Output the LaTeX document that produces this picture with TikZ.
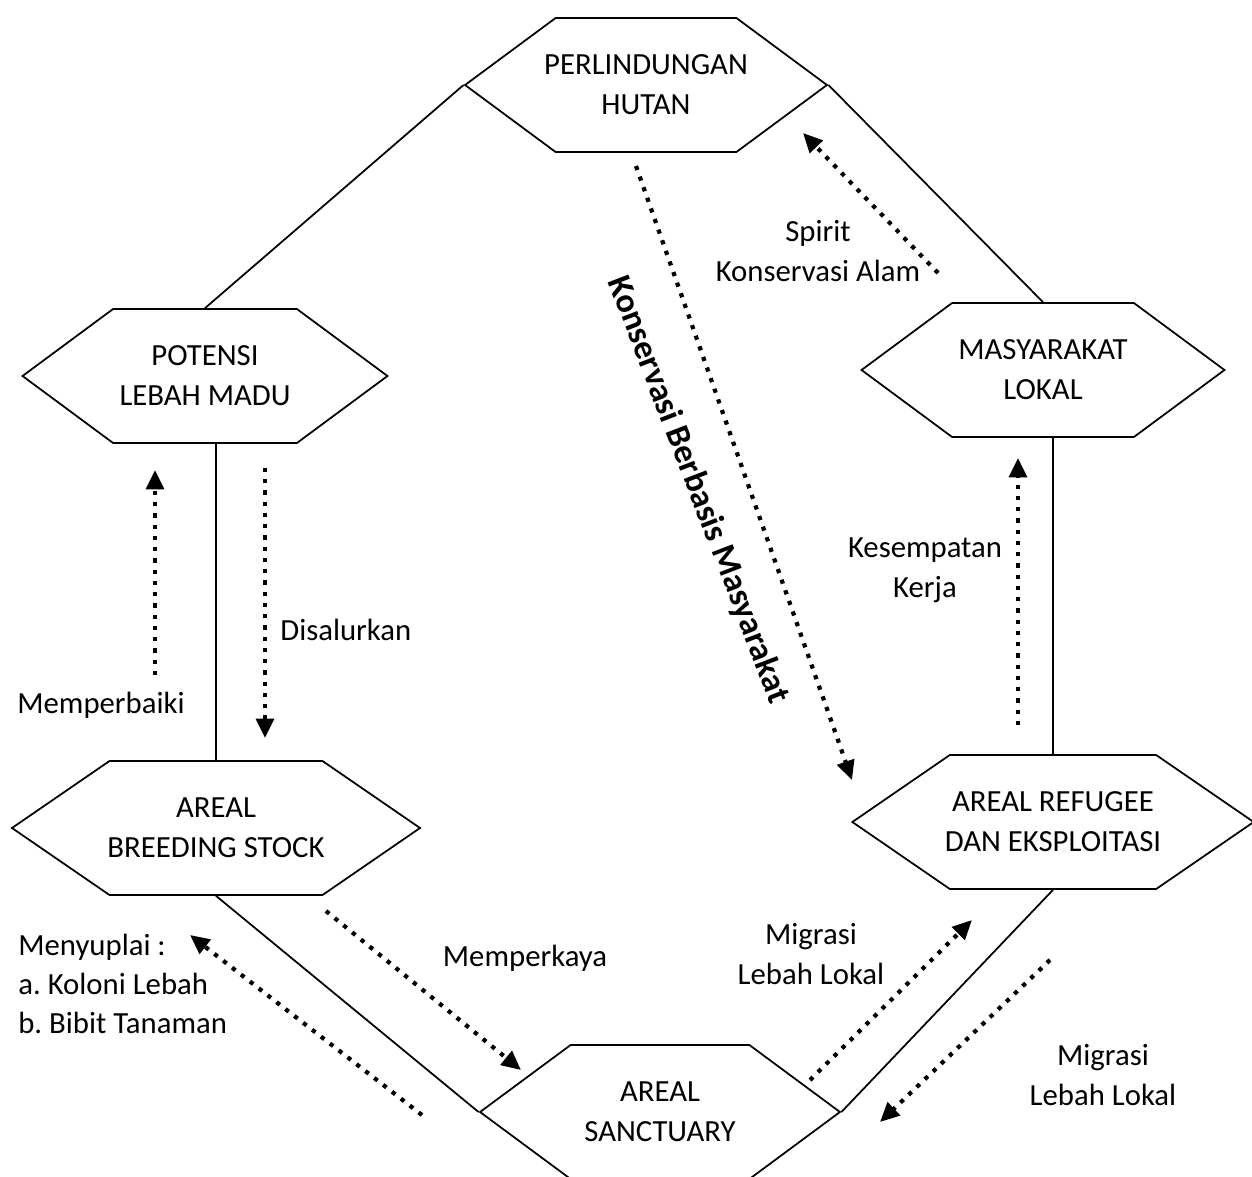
\documentclass[tikz,border=0pt]{standalone}
\usepackage{fontspec}
\setmainfont{Carlito}
\usetikzlibrary{shapes.symbols,arrows.meta}

\tikzset{
  hexa/.style={draw, line width=1pt, fill=white, signal, signal to=east and west,
    signal pointer angle=73, minimum height=2.68cm, inner sep=0pt, align=center},
  link/.style={line width=1pt},
  flow/.style={line width=2.4pt, dash pattern=on 2.4pt off 4pt,
    -{Triangle[length=11pt,width=10pt]}},
  lbl/.style={inner sep=0pt, align=center},
  every node/.style={font=\fontsize{17.5}{22.7}\selectfont}
}

\begin{document}
\begin{tikzpicture}[x=0.02cm,y=-0.02cm]

\useasboundingbox (0,0) rectangle (1252,1177);
\clip (0,0) rectangle (1252,1177);

\node[hexa, minimum width=7.24cm, inner xsep=-0.24cm] (perl) at (646,85) {PERLINDUNGAN\\HUTAN};
\node[hexa, minimum width=7.3cm] (pot) at (205,376) {POTENSI\\LEBAH MADU};
\node[hexa, minimum width=7.26cm] (mas) at (1043,370) {MASYARAKAT\\LOKAL};
\node[hexa, minimum width=8.16cm, inner xsep=-0.04cm, signal pointer angle=69] (bre) at (216,828) {AREAL\\BREEDING STOCK};
\node[hexa, minimum width=7.9cm, inner xsep=-0.1cm, signal pointer angle=69] (ref) at (1053,822) {AREAL REFUGEE\\DAN EKSPLOITASI};
\node[hexa, minimum width=7.2cm] (san) at (660,1112) {AREAL\\SANCTUARY};

\draw[link] (perl.west) -- (pot.north);
\draw[link] (perl.east) -- (mas.north);
\draw[link] (bre.north |- pot.south) -- (bre.north);
\draw[link] (ref.north |- mas.south) -- (ref.north);
\draw[link] (bre.south) -- (san.west);
\draw[link] (ref.south) -- (san.east);

\coordinate (mpA) at (155,675);
\coordinate (mpB) at (155,470);
\coordinate (dsA) at (265,468);
\coordinate (dsB) at (265,738);
\coordinate (kbA) at (636,166);
\coordinate (kbB) at (852,780);
\coordinate (spA) at (938,273);
\coordinate (spB) at (803,133);
\coordinate (ksA) at (1018,725);
\coordinate (ksB) at (1018,458);
\coordinate (mkA) at (326,911);
\coordinate (mkB) at (521,1070);
\coordinate (myA) at (422,1115);
\coordinate (myB) at (190,935);
\coordinate (mgA) at (810,1080);
\coordinate (mgB) at (972,920);
\coordinate (mhA) at (1050,960);
\coordinate (mhB) at (880,1122);

\draw[flow] (mpA) -- (mpB);
\draw[flow] (dsA) -- (dsB);
\draw[flow] (kbA) -- (kbB);
\draw[flow] (spA) -- (spB);
\draw[flow] (ksA) -- (ksB);
\draw[flow] (mkA) -- (mkB);
\draw[flow] (myA) -- (myB);
\draw[flow] (mgA) -- (mgB);
\draw[flow] (mhA) -- (mhB);

\node[lbl] (tmp) at (101,705) {Memperbaiki};
\node[lbl, anchor=west] (tds) at (280,630) {Disalurkan};
\node[lbl, rotate=-69, font=\fontsize{19.5}{22.7}\selectfont\bfseries] (tkb) at (698,490) {Konservasi Berbasis Masyarakat};
\node[lbl] (tsp) at (818,251) {Spirit\\Konservasi Alam};
\node[lbl] (tks) at (925,570) {Kesempatan\\Kerja};
\node[lbl] (tmk) at (525,958) {Memperkaya};
\node[lbl, anchor=west, align=left, font=\fontsize{17.5}{22.1}\selectfont] (tmy) at (18,984) {Menyuplai :\\a.\ Koloni Lebah\\b.\ Bibit Tanaman};
\node[lbl] (tmg) at (811,954) {Migrasi\\Lebah Lokal};
\node[lbl] (tmh) at (1103,1075) {Migrasi\\Lebah Lokal};

\end{tikzpicture}
\end{document}
